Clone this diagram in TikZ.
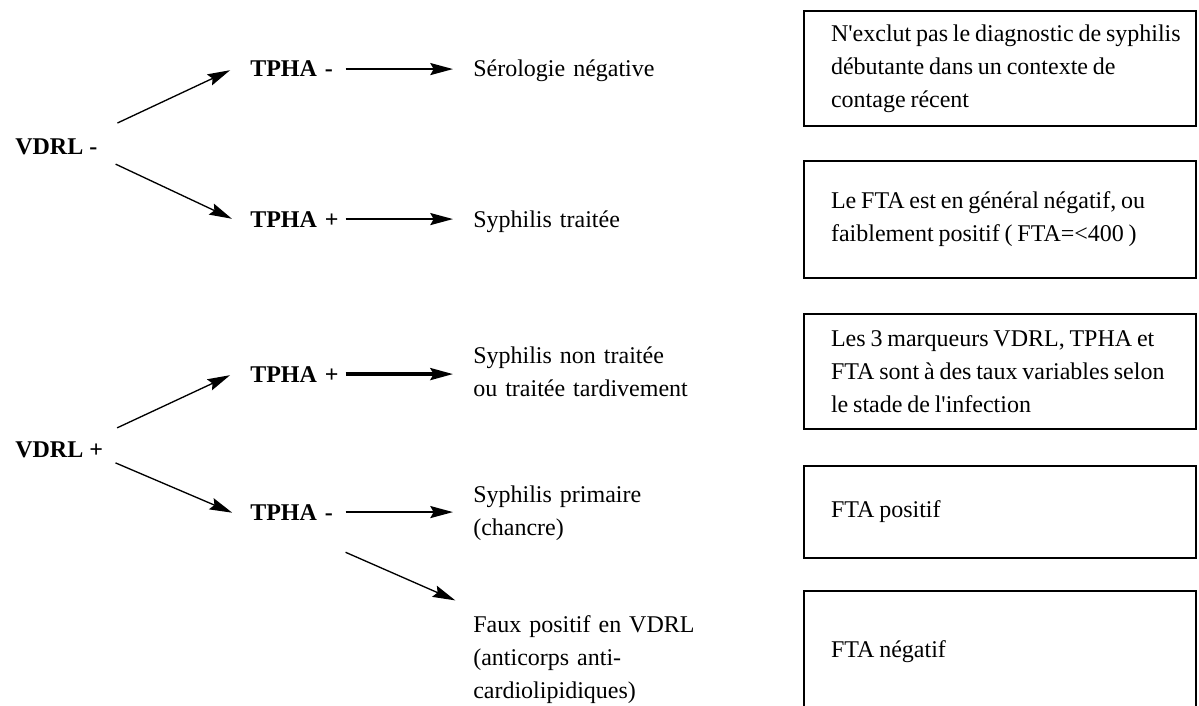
\documentclass[tikz,border=0pt]{standalone}
\usepackage{fontspec}
\setmainfont{Liberation Serif}
\usetikzlibrary{arrows.meta}
\newcommand{\diagfont}{\fontsize{18}{24.75}\selectfont}
\tikzset{
    test/.style={font=\diagfont\bfseries, inner sep=0pt, anchor=base west},
    tpha/.style={test, text width=71.25pt},
    result/.style={font=\diagfont, inner sep=0pt, anchor=base west, text width=180pt, align=left},
    infobox/.style={draw=black, line width=1.6pt, anchor=north west, minimum width=294pt, text width=285pt, inner xsep=4.5pt, inner ysep=0pt, align=left, font=\diagfont, execute at begin node={\leftskip=15.75pt\rightskip=-20pt plus 1fil\spaceskip=3.6pt plus 1pt minus 1pt}},
    arrow/.style={-{Stealth[length=17pt, width=9pt, inset=2.5pt]}, line width=1pt},
    harrow/.style={arrow, line width=1.6pt, shorten >=15pt}
}

\begin{document}
\begin{tikzpicture}[x=0.75pt, y=-0.75pt]
\useasboundingbox (0,0) rectangle (1199,706);

% Tests
\node (vdrlneg) [test] at (15,155) {VDRL -};
\node (vdrlpos) [test] at (15,457) {VDRL +};

\node (tphaA) [tpha] at (250,77) {TPHA -};
\node (tphaB) [tpha] at (250,227) {TPHA +};
\node (tphaC) [tpha] at (250,382) {TPHA +};
\node (tphaD) [tpha] at (250,520) {TPHA -};

% Results
\node (serneg) [result] at (473,77) {Sérologie négative};
\node (traitee) [result] at (473,227) {Syphilis traitée};
\node (nontraitee) [result] at (473,363) {Syphilis non traitée\\ou traitée tardivement};
\node (primaire) [result] at (473,502) {Syphilis primaire\\(chancre)};
\node (faux) [result] at (473,632) {Faux positif en VDRL\\(anticorps anti-\\cardiolipidiques)};

% Comments
\node (boxA) [infobox, minimum height=86.25pt] at (803,10) {N\textquotesingle exclut pas le diagnostic de syphilis\\débutante dans un contexte de\\contage récent};
\node (boxB) [infobox, minimum height=87.75pt] at (803,160) {Le FTA est en général négatif, ou\\faiblement positif ( FTA=<400 )};
\node (boxC) [infobox, minimum height=86.25pt] at (803,313) {Les 3 marqueurs VDRL, TPHA et\\FTA sont à des taux variables selon\\le stade de l\textquotesingle infection};
\node (boxD) [infobox, minimum height=69pt] at (803,465) {FTA positif};
\node (boxE) [infobox, minimum height=91.5pt] at (803,590) {FTA négatif};

% Arrows
\draw [arrow, shorten <=16.5pt, shorten >=16.5pt] ([yshift=5pt]vdrlneg.north east) -- (tphaA.north west);
\draw [arrow, shorten <=15pt, shorten >=15pt] (vdrlneg.south east) -- (tphaB.south west);
\draw [arrow, shorten <=11.5pt, shorten >=16.5pt] ([yshift=5pt]vdrlpos.north east) -- (tphaC.north west);
\draw [arrow, shorten <=10pt, shorten >=14.5pt] (vdrlpos.south east) -- (tphaD.south west);
\draw [arrow, shorten >=14.5pt] ([yshift=-24pt]tphaD.south east) -- ([yshift=5pt]faux.north west);

\draw [harrow] (tphaA.east) -- (tphaA.east -| serneg.west);
\draw [harrow] (tphaB.east) -- (tphaB.east -| traitee.west);
\draw [harrow, line width=2.4pt] (tphaC.east) -- (tphaC.east -| nontraitee.west);
\draw [harrow] (tphaD.east) -- (tphaD.east -| primaire.west);

\end{tikzpicture}
\end{document}
